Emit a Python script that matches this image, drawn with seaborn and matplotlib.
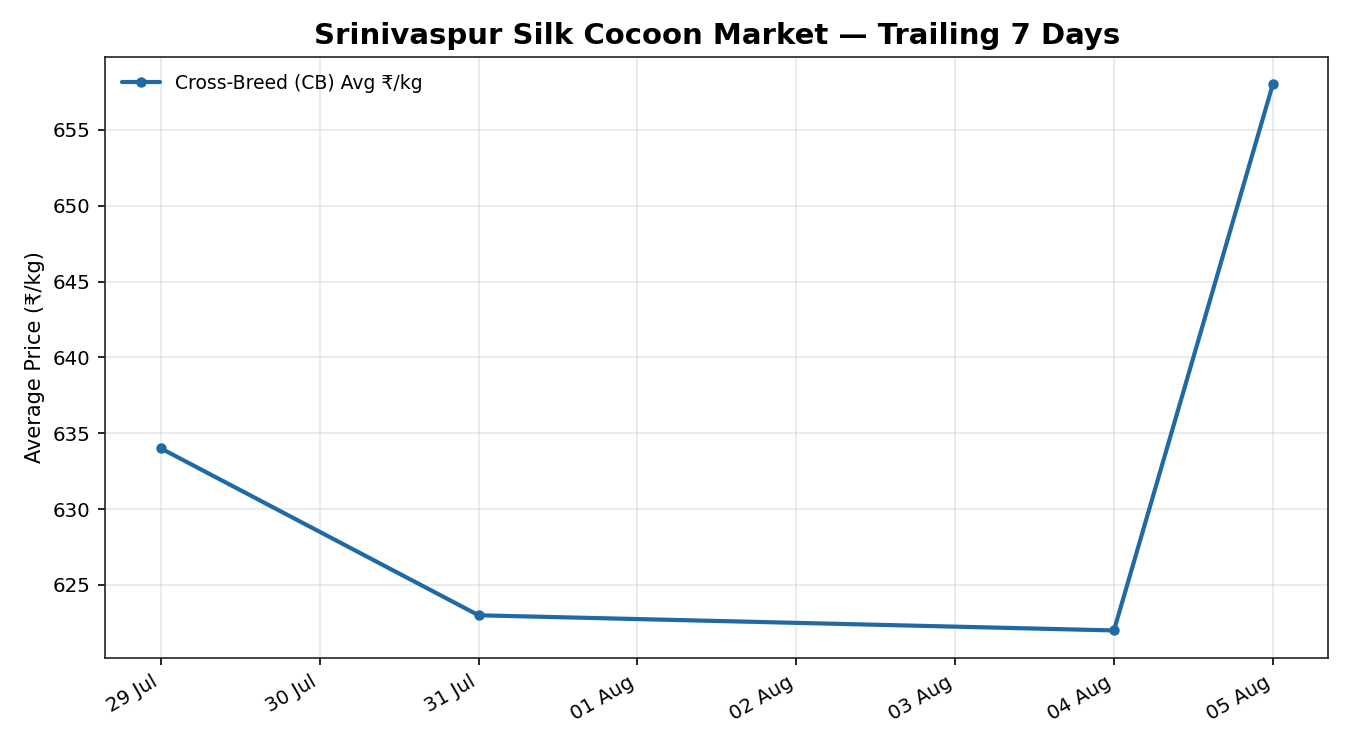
import matplotlib
matplotlib.use("Agg")
import matplotlib.pyplot as plt
import matplotlib.dates as mdates
import seaborn as sns
import pandas as pd

dates = ["2025-07-29", "2025-07-31", "2025-08-04", "2025-08-05"]
prices = [634, 623, 622, 658]
series_label = "Cross-Breed (CB) Avg ₹/kg"

df = pd.DataFrame({"date": pd.to_datetime(dates), "price": prices})

sns.set_style("ticks", {"axes.edgecolor": "black", "text.color": "black",
                        "axes.labelcolor": "black", "xtick.color": "black",
                        "ytick.color": "black"})
plt.rcParams['font.family'] = ['DejaVu Sans']

fig, ax = plt.subplots(figsize=(9, 5), dpi=150)
sns.lineplot(data=df, x="date", y="price", ax=ax, marker="o", markersize=5,
             linewidth=2, color="#1f6aa5", markeredgewidth=0, label=series_label)

ax.set_title("Srinivaspur Silk Cocoon Market — Trailing 7 Days", fontsize=14,
             fontweight="bold", color="black")
ax.set_xlabel("")
ax.set_ylabel("Average Price (₹/kg)", fontsize=10, color="black")
ax.tick_params(labelsize=9.5, colors="black")
ax.grid(True, alpha=0.3, color="#b0b0b0")
ax.xaxis.set_major_locator(mdates.DayLocator())
ax.xaxis.set_major_formatter(mdates.DateFormatter("%d %b"))
for lbl in ax.get_xticklabels():
    lbl.set_rotation(30)
    lbl.set_ha("right")
for s in ax.spines.values():
    s.set_color("#222222")
leg = ax.legend(loc="upper left", frameon=False, fontsize=9)
for t in leg.get_texts():
    t.set_color("black")

fig.subplots_adjust(left=0.078, right=0.984, top=0.924, bottom=0.123)
fig.savefig("out.png", dpi=150)
